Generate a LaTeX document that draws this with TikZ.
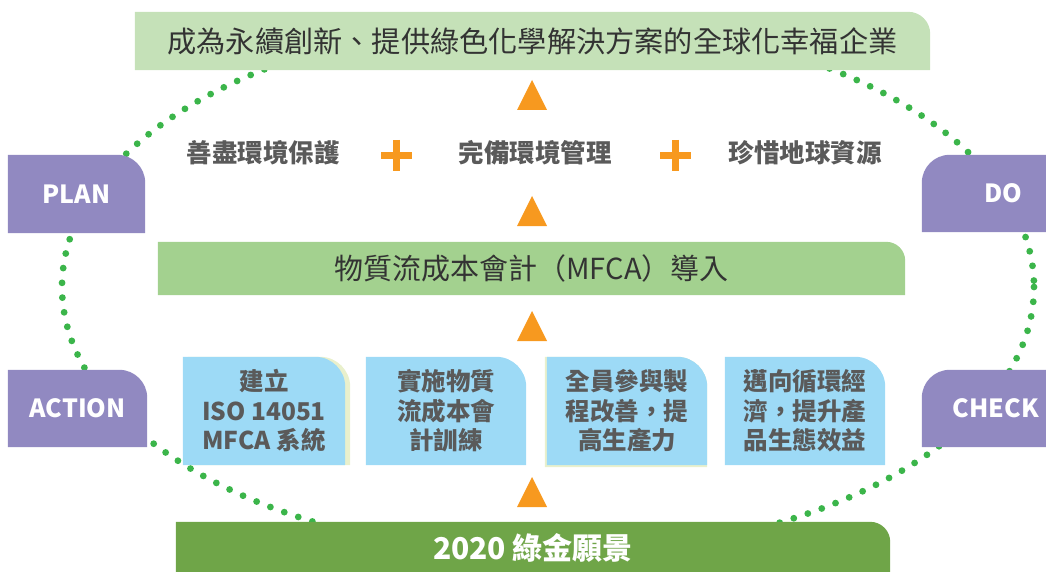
\documentclass[tikz,border=0pt]{standalone}
\usepackage{fontspec}
\setmainfont{Noto Sans CJK TC}
\usetikzlibrary{backgrounds}
\definecolor{goalgreen}{HTML}{C5E1B8}
\definecolor{mfcagreen}{HTML}{A3D18F}
\definecolor{basegreen}{HTML}{6FA548}
\definecolor{pdcapurple}{HTML}{9189C1}
\definecolor{stepblue}{HTML}{9DDAF6}
\definecolor{shadowpale}{HTML}{E9F0CC}
\definecolor{arroworange}{HTML}{F7991F}
\definecolor{dotgreen}{HTML}{3BB54A}
\definecolor{textgray}{HTML}{5A5A5A}
\definecolor{textdark}{HTML}{333333}
\tikzset{
  banner/.style={inner sep=0pt,minimum height=#1},
  pdcabox/.style={inner sep=0pt,minimum width=137pt,minimum height=78pt,
    text=white,font=\bfseries\fontsize{25}{25}\selectfont},
  stepbox/.style={inner sep=0pt,minimum width=162pt,minimum height=108pt,
    align=center,text=textgray,font=\bfseries\fontsize{24.5}{29.5}\selectfont},
  aimtext/.style={text=textgray,font=\bfseries\fontsize{25.5}{25.5}\selectfont},
  plusarm/.style={arroworange,line width=7pt},
  uparrow/.style={fill=arroworange}
}

\begin{document}
\begin{tikzpicture}[x=1pt,y=-1pt]
  \useasboundingbox (0,0) rectangle (1046,572);
  % banners
  \node[banner=58pt,minimum width=795pt,text=textdark,font=\fontsize{29.2}{29.2}\selectfont]
    (goal) at (532.5,41) {成為永續創新、提供綠色化學解決方案的全球化幸福企業};
  \node[banner=53pt,minimum width=747pt,text=textdark,font=\fontsize{29}{29}\selectfont]
    (mfca) at (531.5,268.5) {物質流成本會計（MFCA）導入};
  \node[banner=52pt,minimum width=714pt,text=white,font=\bfseries\fontsize{30}{30}\selectfont]
    (base) at (533,548) {2020 綠金願景};
  % PDCA
  \node[pdcabox] (plan) at (76.5,194) {PLAN};
  \node[pdcabox,minimum width=139pt,minimum height=77pt] (action) at (77.5,408.5) {ACTION};
  \node[pdcabox,minimum width=162pt,minimum height=77pt] (do) at (1003,193.5) {DO};
  \node[pdcabox,minimum width=148pt,minimum height=77pt] (check) at (996,408.5) {CHECK};
  % three aims
  \node[aimtext] (aim1) at (263,153) {善盡環境保護};
  \node[aimtext] (aim2) at (535,153) {完備環境管理};
  \node[aimtext] (aim3) at (805,153) {珍惜地球資源};
  \coordinate (plus1) at (396.5,155.5);
  \coordinate (plus2) at (675.5,155.5);
  \foreach \p in {plus1,plus2}
    \draw[plusarm] (\p) +(-15.5,0) -- +(15.5,0) (\p) +(0,-15.5) -- +(0,15.5);
  % steps
  \node[stepbox] (step1) at (264,411) {建立\\ISO 14051\\MFCA 系統};
  \node[stepbox,minimum width=160pt] (step2) at (446,411) {實施物質\\流成本會\\計訓練};
  \node[stepbox,minimum width=160pt] (step3) at (627,411) {全員參與製\\程改善，提\\高生產力};
  \node[stepbox,minimum width=160pt] (step4) at (805,411) {邁向循環經\\濟，提升產\\品生態效益};
  % orange arrows
  \coordinate (up1) at (532,80);
  \coordinate (up2) at (532,196);
  \coordinate (up3) at (532,311);
  \coordinate (up4) at (532,477);
  \foreach \a in {up1,up2,up3,up4}
    \fill[uparrow] (\a) -- ++(15,30) -- ++(-30,0) -- cycle;

  \begin{scope}[on background layer]
    \draw[dotgreen,line width=6.8pt,line cap=round,dash pattern=on 0pt off 14.8pt]
      (548,287) ellipse [x radius=486,y radius=268];
    \foreach \n/\c/\r in {goal/goalgreen/22,mfca/mfcagreen/19,base/basegreen/20,
        plan/pdcapurple/28,action/pdcapurple/28}
      \fill[\c] (\n.south west) -- (\n.north west) [rounded corners=\r pt]
        -- (\n.north east) [sharp corners] -- (\n.south east) -- cycle;
    \foreach \n in {do,check}
      \fill[pdcapurple] (\n.south east) -- (\n.north east) [rounded corners=28pt]
        -- (\n.north west) [sharp corners] -- (\n.south west) -- cycle;
    \fill[shadowpale] ([xshift=5pt]step1.south west) -- ([xshift=5pt]step1.north west)
      [rounded corners=30pt] -- ([xshift=5pt]step1.north east) [sharp corners]
      -- ([xshift=5pt]step1.south east) -- cycle;
    \fill[shadowpale] ([shift={(-2pt,-2pt)}]step3.south west) -- ([xshift=-2pt]step3.north west)
      [rounded corners=30pt] -- (step3.north east) [sharp corners]
      -- ([yshift=-2pt]step3.south east) -- cycle;
    \foreach \n in {step1,step2,step3,step4}
      \fill[stepblue] (\n.south west) -- (\n.north west) [rounded corners=30pt]
        -- (\n.north east) [sharp corners] -- (\n.south east) -- cycle;
  \end{scope}
\end{tikzpicture}
\end{document}
